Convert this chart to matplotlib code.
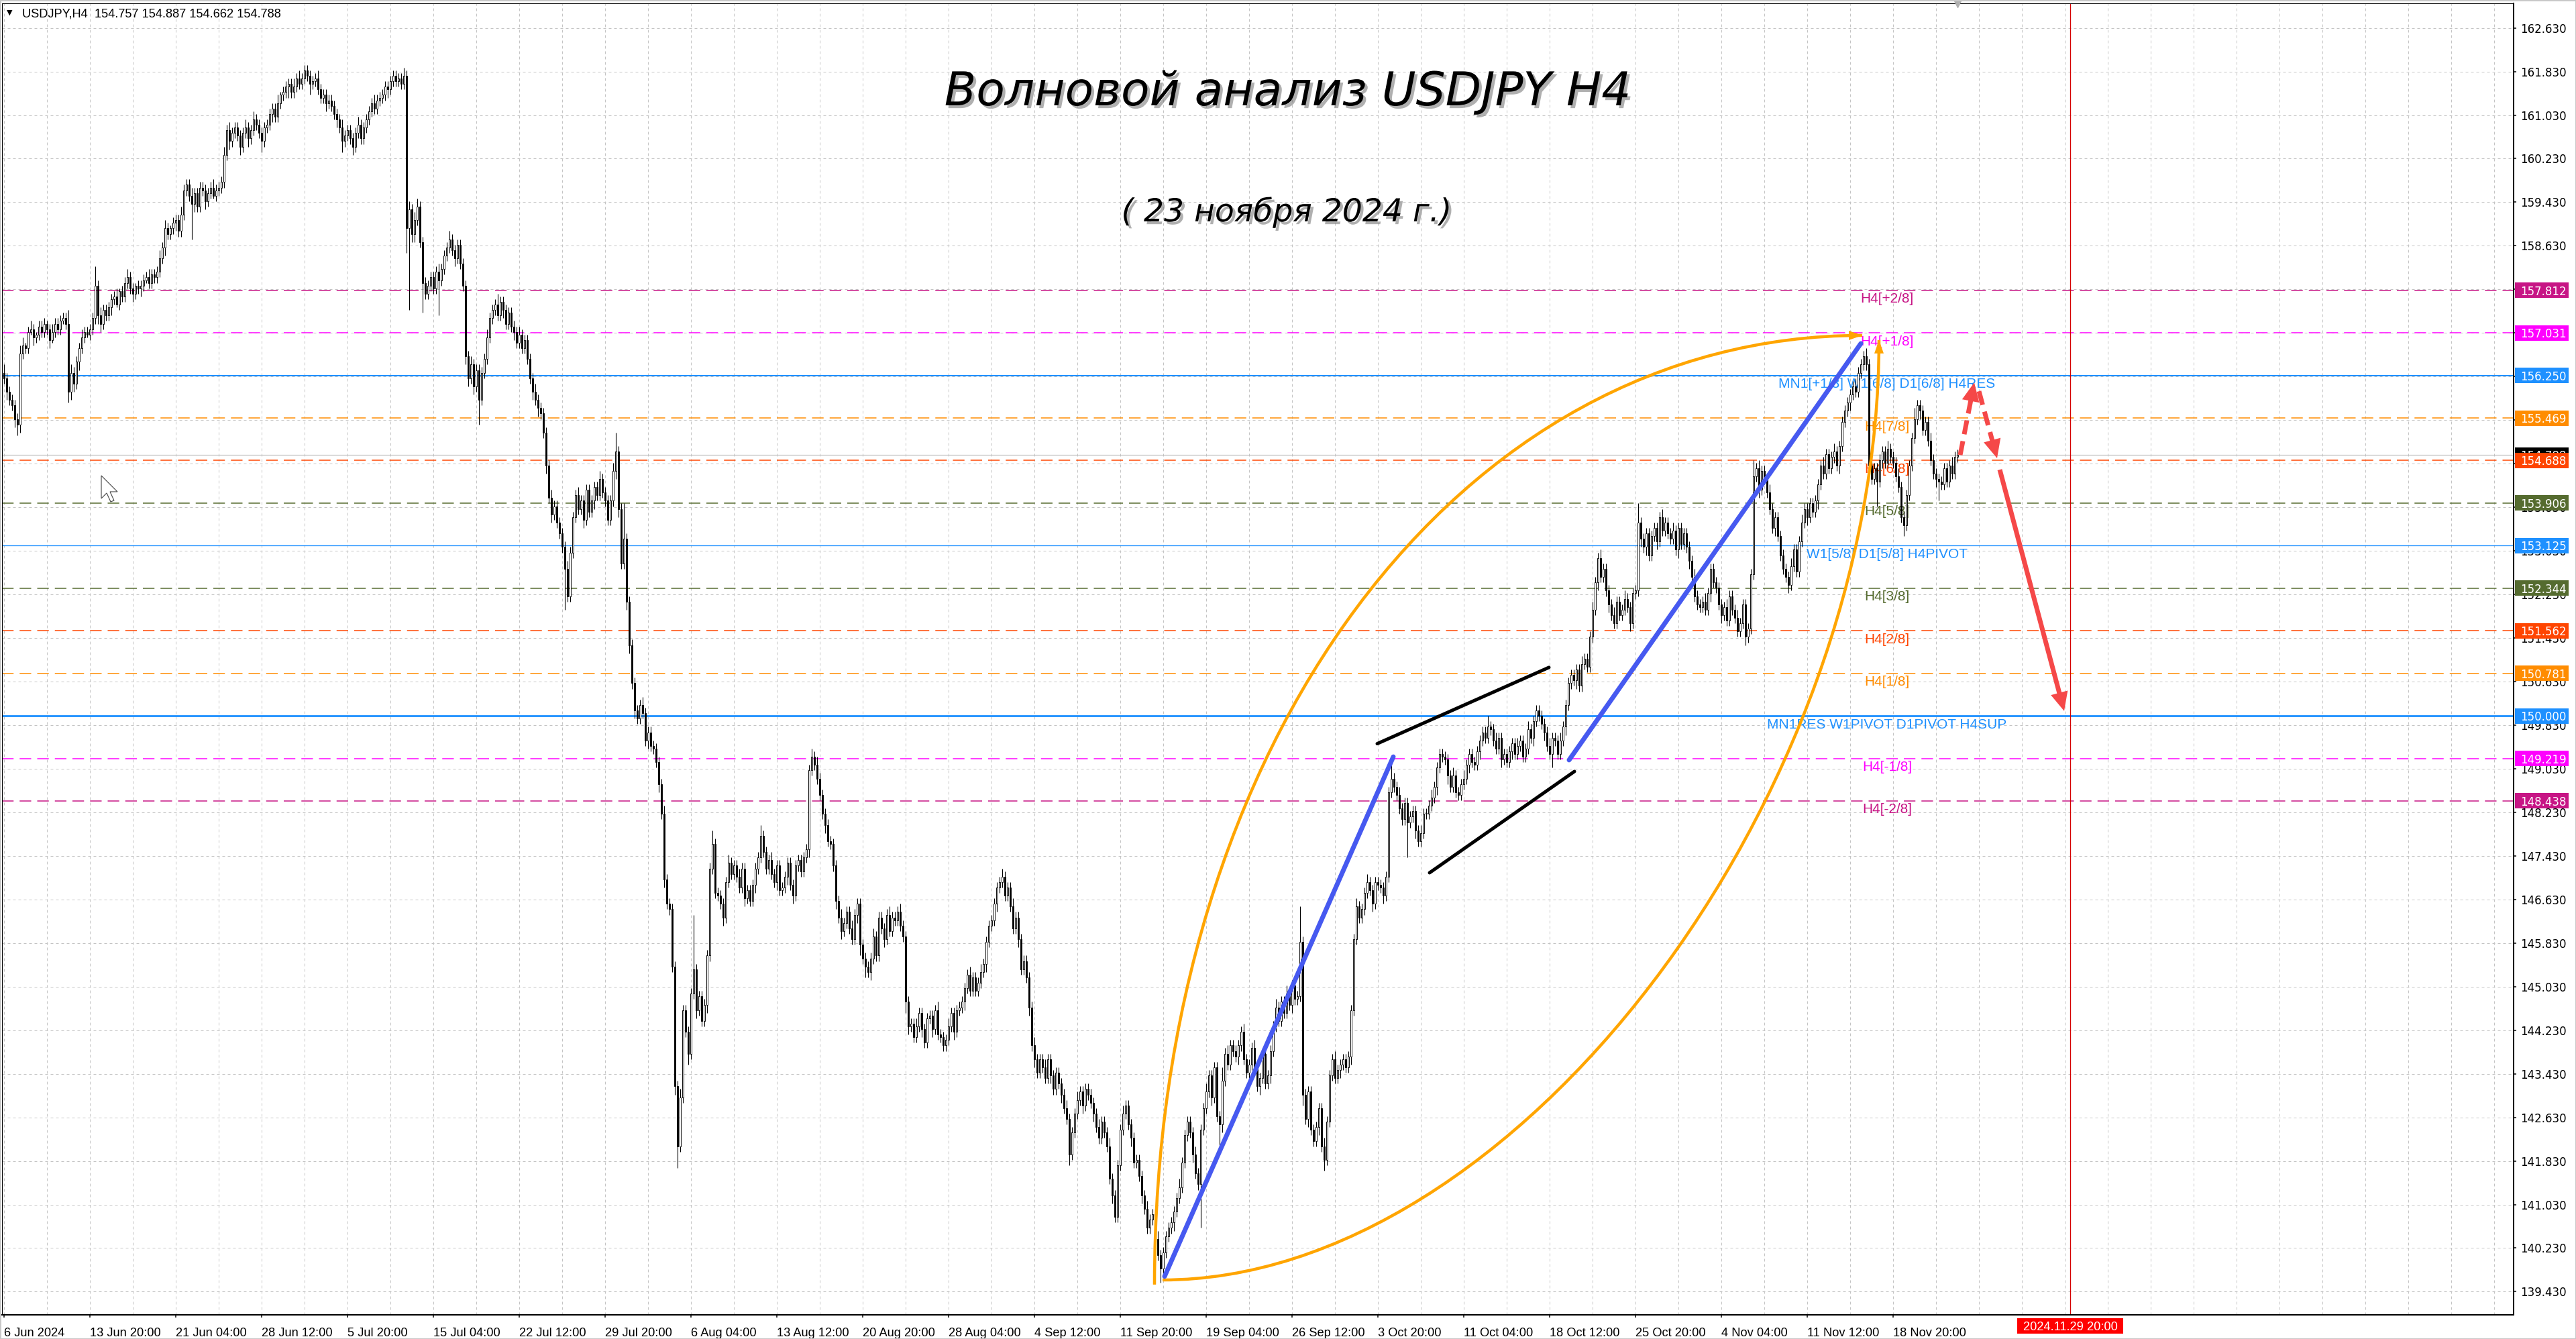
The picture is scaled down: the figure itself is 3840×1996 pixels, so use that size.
import numpy as np
import matplotlib
matplotlib.use("Agg")
import matplotlib.pyplot as plt
from matplotlib import font_manager as fm
from matplotlib.patches import Rectangle, Polygon, PathPatch
from matplotlib.path import Path
from matplotlib.transforms import blended_transform_factory as blend
import matplotlib.patheffects as pe

# ======================= DATA =======================
header_text = "USDJPY,H4  154.757 154.887 154.662 154.788"
title_text = "Волновой анализ USDJPY H4"
subtitle_text = "( 23 ноября 2024 г.)"

first_open = 156.30
closes = [
    156.20, 155.95, 155.80,                               # 6 Jun (12,16,20)
    155.70, 155.45, 155.35, 156.65, 156.80, 156.75,       # 7 Jun
    157.05, 157.10, 156.95, 157.00, 157.15, 157.05,       # 10 Jun
    157.20, 157.10, 156.90, 157.05, 157.20, 157.10,       # 11 Jun
    157.25, 157.30, 157.20, 155.95, 156.30, 156.10,       # 12 Jun
    156.50, 156.75, 156.95, 157.05, 157.00, 157.10,       # 13 Jun
    157.30, 157.90, 157.35, 157.20, 157.45, 157.35,       # 14 Jun
    157.50, 157.65, 157.70, 157.55, 157.80, 157.70,       # 17 Jun
    157.95, 158.05, 157.85, 157.75, 157.90, 157.85,       # 18 Jun
    157.90, 158.00, 158.05, 157.95, 158.10, 158.05,       # 19 Jun
    158.15, 158.40, 158.60, 158.95, 158.85, 158.95,       # 20 Jun
    159.05, 159.10, 158.90, 159.20, 159.65, 159.75,       # 21 Jun
    159.55, 159.40, 159.60, 159.35, 159.70, 159.65,       # 24 Jun
    159.45, 159.60, 159.70, 159.55, 159.65, 159.70,       # 25 Jun
    159.80, 160.30, 160.75, 160.55, 160.70, 160.80,       # 26 Jun
    160.65, 160.45, 160.70, 160.80, 160.60, 160.75,       # 27 Jun
    160.95, 160.85, 160.70, 160.55, 160.80, 160.85,       # 28 Jun
    161.05, 161.15, 161.00, 161.25, 161.40, 161.45,       # 1 Jul
    161.55, 161.60, 161.45, 161.55, 161.70, 161.60,       # 2 Jul
    161.70, 161.85, 161.75, 161.60, 161.65, 161.70,       # 3 Jul
    161.50, 161.35, 161.40, 161.25, 161.30, 161.20,       # 4 Jul
    161.05, 160.95, 160.80, 160.55, 160.65, 160.75,       # 5 Jul
    160.60, 160.45, 160.70, 160.85, 160.60, 160.80,       # 8 Jul
    160.95, 161.10, 161.25, 161.15, 161.30, 161.35,       # 9 Jul
    161.40, 161.55, 161.50, 161.65, 161.75, 161.65,       # 10 Jul
    161.70, 161.60, 161.75, 158.95, 159.30, 158.85,       # 11 Jul
    159.10, 159.35, 158.70, 157.95, 157.75, 157.90,       # 12 Jul
    158.05, 157.85, 158.15, 158.00, 158.20, 158.45,       # 15 Jul
    158.60, 158.75, 158.55, 158.40, 158.65, 158.30,       # 16 Jul
    157.90, 156.60, 156.20, 156.45, 156.05, 156.35,       # 17 Jul
    155.80, 156.30, 156.55, 156.95, 157.30, 157.45,       # 18 Jul
    157.55, 157.35, 157.60, 157.45, 157.20, 157.40,       # 19 Jul
    157.15, 157.05, 156.85, 157.00, 156.75, 156.90,       # 22 Jul
    156.55, 156.20, 155.95, 155.80, 155.65, 155.55,       # 23 Jul
    155.20, 154.60, 154.00, 153.70, 153.85, 153.55,       # 24 Jul
    153.35, 153.10, 152.70, 152.20, 153.00, 153.65,       # 25 Jul
    154.05, 153.80, 153.95, 153.60, 154.15, 153.75,       # 26 Jul
    153.95, 154.20, 154.05, 154.35, 154.10, 153.95,       # 29 Jul
    153.60, 153.95, 154.50, 154.85, 153.80, 152.80,       # 30 Jul
    153.25, 152.10, 151.30, 150.60, 150.10, 149.95,       # 31 Jul
    150.20, 150.05, 149.55, 149.70, 149.45, 149.40,       # 1 Aug
    149.15, 148.75, 148.20, 147.00, 146.55, 146.45,       # 2 Aug
    145.40, 143.20, 142.10, 143.00, 144.60, 144.20,       # 5 Aug
    143.80, 144.90, 145.35, 144.60, 144.85, 144.40,       # 6 Aug
    144.70, 145.60, 147.20, 147.65, 146.75, 146.70,       # 7 Aug
    146.55, 146.30, 146.95, 147.30, 147.10, 147.25,       # 8 Aug
    147.05, 146.85, 147.20, 146.65, 146.80, 146.60,       # 9 Aug
    146.90, 147.20, 147.40, 147.80, 147.50, 147.20,       # 12 Aug
    147.35, 147.10, 146.95, 147.25, 146.80, 146.85,       # 13 Aug
    147.05, 147.30, 146.90, 146.70, 147.25, 147.35,       # 14 Aug
    147.15, 147.40, 147.55, 149.00, 149.25, 149.10,       # 15 Aug
    148.85, 148.55, 148.20, 148.00, 147.70, 147.65,       # 16 Aug
    147.25, 146.60, 146.30, 146.05, 146.20, 146.40,       # 19 Aug
    146.10, 145.90, 146.35, 146.55, 145.80, 145.55,       # 20 Aug
    145.40, 145.30, 145.55, 145.95, 145.60, 146.30,       # 21 Aug
    146.10, 145.90, 146.35, 146.05, 146.30, 146.25,       # 22 Aug
    146.40, 146.15, 145.95, 144.75, 144.30, 144.35,       # 23 Aug
    144.10, 144.30, 144.55, 144.25, 144.00, 144.45,       # 26 Aug
    144.50, 144.25, 144.60, 144.15, 144.10, 143.95,       # 27 Aug
    144.05, 144.30, 144.55, 144.20, 144.60, 144.65,       # 28 Aug
    144.75, 145.00, 145.25, 144.95, 145.20, 144.95,       # 29 Aug
    145.10, 145.30, 145.45, 145.85, 146.15, 146.25,       # 30 Aug
    146.55, 146.85, 146.95, 147.05, 146.70, 146.85,       # 2 Sep
    146.50, 146.10, 146.30, 145.90, 145.35, 145.50,       # 3 Sep
    145.20, 144.65, 143.95, 143.70, 143.45, 143.70,       # 4 Sep
    143.55, 143.35, 143.70, 143.40, 143.15, 143.45,       # 5 Sep
    143.25, 143.05, 142.80, 142.60, 141.95, 142.35,       # 6 Sep
    142.70, 142.95, 143.10, 142.85, 143.15, 143.05,       # 9 Sep
    142.90, 142.70, 142.45, 142.25, 142.55, 142.35,       # 10 Sep
    142.10, 141.50, 141.20, 140.80, 141.75, 142.40,       # 11 Sep
    142.70, 142.85, 142.50, 142.25, 141.80, 141.85,       # 12 Sep
    141.55, 141.20, 140.95, 140.60, 140.75, 140.85,       # 13 Sep
    140.40, 140.10, 139.85, 140.15, 140.45, 140.60,       # 16 Sep
    140.70, 140.90, 141.15, 141.35, 141.80, 142.30,       # 17 Sep
    142.55, 142.35, 141.95, 141.60, 141.40, 142.40,       # 18 Sep
    142.80, 143.10, 143.40, 143.00, 143.55, 142.65,       # 19 Sep
    142.50, 143.30, 143.80, 143.60, 143.95, 143.85,       # 20 Sep
    143.75, 143.95, 144.20, 143.70, 143.45, 143.60,       # 23 Sep
    143.90, 143.55, 143.20, 143.35, 143.80, 143.25,       # 24 Sep
    143.40, 143.85, 144.30, 144.65, 144.40, 144.75,       # 25 Sep
    144.55, 144.90, 144.70, 145.05, 144.80, 144.85,       # 26 Sep
    145.85, 143.05, 142.60, 143.10, 142.40, 142.20,       # 27 Sep
    142.45, 142.80, 142.10, 141.85, 142.55, 143.40,       # 30 Sep
    143.70, 143.35, 143.50, 143.60, 143.70, 143.55,       # 1 Oct
    143.75, 144.60, 145.90, 146.50, 146.30, 146.45,       # 2 Oct
    146.75, 146.95, 146.80, 146.55, 146.95, 146.90,       # 3 Oct
    146.85, 146.70, 147.05, 148.60, 148.85, 148.70,       # 4 Oct
    148.55, 148.30, 148.10, 148.40, 148.05, 148.15,       # 7 Oct
    148.25, 147.90, 147.70, 147.85, 148.20, 148.20,       # 8 Oct
    148.35, 148.50, 148.70, 149.05, 149.30, 149.25,       # 9 Oct
    149.20, 148.90, 148.70, 148.90, 148.60, 148.55,       # 10 Oct
    148.75, 148.85, 149.10, 149.30, 149.15, 149.10,       # 11 Oct
    149.35, 149.55, 149.70, 149.60, 149.80, 149.75,       # 14 Oct
    149.55, 149.40, 149.60, 149.20, 149.30, 149.15,       # 15 Oct
    149.35, 149.50, 149.30, 149.45, 149.55, 149.25,       # 16 Oct
    149.40, 149.75, 149.60, 149.90, 150.10, 150.00,       # 17 Oct
    149.85, 149.70, 149.45, 149.30, 149.60, 149.55,       # 18 Oct
    149.30, 149.55, 149.80, 150.20, 150.60, 150.75,       # 21 Oct
    150.65, 150.85, 150.55, 150.95, 151.05, 150.90,       # 22 Oct
    151.45, 151.95, 152.45, 152.90, 152.55, 152.70,       # 23 Oct
    152.30, 152.05, 151.85, 151.70, 152.10, 151.85,       # 24 Oct
    151.95, 152.15, 152.00, 151.70, 152.25, 152.30,       # 25 Oct
    153.55, 153.25, 153.10, 153.35, 152.95, 153.30,       # 28 Oct
    153.45, 153.20, 153.65, 153.40, 153.55, 153.35,       # 29 Oct
    153.25, 153.40, 153.05, 153.45, 153.15, 153.35,       # 30 Oct
    153.10, 152.85, 152.55, 152.20, 152.05, 152.00,       # 31 Oct
    152.10, 151.95, 152.25, 152.70, 152.45, 152.35,       # 1 Nov
    152.05, 151.85, 152.00, 151.75, 152.20, 151.95,       # 4 Nov
    151.80, 151.55, 151.70, 152.05, 151.45, 151.60,       # 5 Nov
    152.60, 154.40, 154.55, 154.15, 154.50, 154.35,       # 6 Nov
    154.10, 153.80, 153.45, 153.65, 153.30, 152.95,       # 7 Nov
    152.70, 152.55, 152.40, 152.75, 153.05, 152.65,       # 8 Nov
    153.20, 153.55, 153.80, 153.65, 153.90, 153.75,       # 11 Nov
    153.95, 154.25, 154.60, 154.45, 154.80, 154.55,       # 12 Nov
    154.75, 154.85, 154.60, 154.95, 155.40, 155.60,       # 13 Nov
    155.75, 155.90, 156.05, 155.95, 156.30, 156.45,       # 14 Nov
    156.60, 156.45, 154.60, 154.35, 154.55, 154.30,       # 15 Nov
    154.70, 154.85, 154.65, 154.90, 154.75, 154.65,       # 18 Nov
    154.40, 154.20, 153.65, 153.50, 154.05, 154.60,       # 19 Nov
    155.10, 155.45, 155.70, 155.60, 155.25, 155.40,       # 20 Nov
    155.05, 154.70, 154.45, 154.35, 154.30, 154.25,       # 21 Nov
    154.55, 154.30, 154.60, 154.45, 154.757, 154.788,     # 22 Nov
]

# wick lengths per bar, base-36 digits, unit = 0.05 JPY (one string per day)
wick_unit = 0.05
wick_up_days = [
    "322", "222331", "232122", "212322", "222532", "223222", "272322", "222312",
    "232212", "222322", "232321", "222322", "232222", "222322", "232322", "222322",
    "322222", "222312", "222323", "222222", "322222", "222322", "222322", "222322",
    "222222", "223232", "332222", "222322", "232222", "222322", "222322", "242222",
    "222322", "222322", "222322", "222322", "232222", "222322", "223722", "d22222",
    "232222", "222322", "222322", "22k222", "222522", "222322", "232222", "222422",
    "232222", "222222", "222232", "322222", "222322", "232222", "222322", "222322",
    "232222", "232222", "222322", "232222", "222322", "232222", "222322", "232222",
    "222322", "232222", "222322", "232222", "222322", "232222", "322222", "222322",
    "232222", "222322", "222322", "232222", "252322", "222322", "232222", "222322",
    "232222", "d22222", "222322", "232222", "222322", "232222", "222252", "232222",
    "222322", "232222", "222322", "232222", "222242", "232222", "222322", "232222",
    "222322", "232222", "222322", "232232", "222322", "232222", "722222", "222322",
    "232222", "222322", "232222", "222322", "232222", "262322", "232222", "222322",
    "232222", "222322", "232222", "222322", "232222", "222322", "232222", "242222",
    "232222", "222322",
]
wick_dn_days = [
    "232", "234322", "213222", "223122", "212433", "232212", "223322", "232122",
    "222322", "321222", "222322", "232222", "2d3222", "322122", "222322", "232232",
    "222422", "232222", "242222", "222422", "222322", "232422", "232222", "222222",
    "223222", "2229u3", "322b22", "222d22", "222322", "233232", "922222", "222322",
    "232222", "223232", "232322", "22f222", "222322", "232222", "222332", "233232",
    "222322", "232322", "238222", "422322", "232222", "232222", "222322", "232222",
    "222322", "232322", "222322", "222322", "232322", "222342", "423222", "232222",
    "222432", "222322", "232222", "222322", "232222", "222322", "232222", "222322",
    "232322", "222322", "232242", "222322", "232222", "223222", "222322", "232222",
    "225222", "232222", "22322g", "222322", "932222", "232222", "222322", "232222",
    "222322", "242322", "232422", "222322", "232222", "222322", "232222", "2222d2",
    "232222", "222322", "232222", "222322", "232222", "222322", "232222", "222322",
    "232252", "222322", "232222", "222322", "232222", "222322", "232322", "232222",
    "222322", "232222", "222322", "232222", "222232", "222322", "222322", "223222",
    "222322", "232222", "222322", "232222", "223229", "232222", "222422", "222322",
    "222372", "222222",
]

time_tick_bars = [0, 32, 64, 96, 128, 160, 192, 224, 256, 288, 320, 352,
                  384, 416, 448, 480, 512, 544, 576, 608, 640, 672, 704]
time_tick_labels = ["6 Jun 2024", "13 Jun 20:00", "21 Jun 04:00", "28 Jun 12:00",
                    "5 Jul 20:00", "15 Jul 04:00", "22 Jul 12:00", "29 Jul 20:00",
                    "6 Aug 04:00", "13 Aug 12:00", "20 Aug 20:00", "28 Aug 04:00",
                    "4 Sep 12:00", "11 Sep 20:00", "19 Sep 04:00", "26 Sep 12:00",
                    "3 Oct 20:00", "11 Oct 04:00", "18 Oct 12:00", "25 Oct 20:00",
                    "4 Nov 04:00", "11 Nov 12:00", "18 Nov 20:00"]
future_bar = 770
future_label = "2024.11.29 20:00"

price_ticks = [162.63, 161.83, 161.03, 160.23, 159.43, 158.63, 157.83, 157.03,
               156.23, 155.43, 154.63, 153.83, 153.03, 152.23, 151.43, 150.63,
               149.83, 149.03, 148.23, 147.43, 146.63, 145.83, 145.03, 144.23,
               143.43, 142.63, 141.83, 141.03, 140.23, 139.43]

current_price = 154.788
level_prices = [157.812, 157.031, 156.250, 155.469, 154.688, 153.906, 153.125,
                152.344, 151.562, 150.781, 150.000, 149.219, 148.438]
level_names = ["H4[+2/8]", "H4[+1/8]", "MN1[+1/8] W1[6/8] D1[6/8] H4RES", "H4[7/8]",
               "H4[6/8]", "H4[5/8]", "W1[5/8] D1[5/8] H4PIVOT", "H4[3/8]", "H4[2/8]",
               "H4[1/8]", "MN1RES W1PIVOT D1PIVOT H4SUP", "H4[-1/8]", "H4[-2/8]"]

# drawn objects (bar index, price)
arc_upper = [(428.75, 139.56), (692.5, 156.985)]
arc_lower = [(431.75, 139.645), (698.75, 156.90)]
blue_lines = [[(432.5, 139.71), (517.75, 149.25)],
              [(583.25, 149.19), (692.0, 156.837)]]
black_lines = [[(511.75, 149.49), (575.75, 150.89)],
               [(531.25, 147.12), (585.25, 148.98)]]
red_dashed_arrows = [[(729.0, 154.79), (734.25, 156.12)],
                     [(736.0, 155.96), (742.75, 154.73)]]
red_solid_arrow = [(743.75, 154.52), (767.75, 150.09)]
shift_marker_bar = 728

# ======================= STYLE / LAYOUT =======================
level_colors = ['#C71585', '#FF00FF', '#1E90FF', '#FF8C00', '#FF4500', '#556B2F', '#1E90FF',
                '#556B2F', '#FF4500', '#FF8C00', '#1E90FF', '#FF00FF', '#C71585']
level_solid = [False, False, True, False, False, False, True, False, False, False, True, False, False]
level_lw_px = [1.5, 1.5, 2.0, 1.5, 1.5, 1.5, 1.3, 1.5, 1.5, 1.5, 2.8, 1.5, 1.5]

W, H, DPI = 3840, 1996, 100
PT_PER_PX = 72.0 / DPI
PL, PR, PT, PB = 3, 3747, 5, 1960          # plot area in pixels
BAR0_PX, BAR_PX = 6.0, 4.0                 # x pixel of bar 0 and bar spacing
XMIN = (PL - BAR0_PX) / BAR_PX
XMAX = (PR - BAR0_PX) / BAR_PX
YMIN, YMAX = 139.0045, 163.0807
PX_PER_PRICE = (PB - PT) / (YMAX - YMIN)
LABEL_BAR = 701.75
CURSOR_TIP_PX = (151, 709)                 # mouse pointer left in the screenshot

BLUE = '#4659F0'
ORANGE = '#FFA500'
RED = '#F54848'

names = {f.name for f in fm.fontManager.ttflist}
if "Liberation Sans Narrow" in names:
    NARROW, NSCALE = "Liberation Sans Narrow", 1.0
else:
    NARROW, NSCALE = "Liberation Sans", 0.82
ARIAL = "Liberation Sans" if "Liberation Sans" in names else "DejaVu Sans"
plt.rcParams['font.family'] = ['DejaVu Sans']

fig = plt.figure(figsize=(W / DPI, H / DPI), dpi=DPI)
fig.patch.set_facecolor('white')
ax = fig.add_axes([PL / W, 1 - PB / H, (PR - PL) / W, (PB - PT) / H])
ax.set_xlim(XMIN, XMAX)
ax.set_ylim(YMIN, YMAX)
ax.set_facecolor('white')

# spines / ticks
for s in ['left', 'top']:
    ax.spines[s].set_linewidth(1.0 * PT_PER_PX)
for s in ['right', 'bottom']:
    ax.spines[s].set_linewidth(2.0 * PT_PER_PX)
ax.yaxis.set_ticks_position('right')
ax.set_yticks(price_ticks)
ax.set_xticks(time_tick_bars)
ax.tick_params(axis='both', direction='out', length=4 * PT_PER_PX, width=1.5 * PT_PER_PX,
               labelleft=False, labelright=False, labelbottom=False)

# grid
grid_kw = dict(color='#C4C4C4', lw=1.0 * PT_PER_PX, ls=(0, (4, 4)), zorder=0.5)
for y in price_ticks:
    ax.axhline(y, **grid_kw)
for b in range(0, int(XMAX) + 1, 16):
    ax.axvline(b, **grid_kw)

# level lines + labels
for p, name, col, solid, lwp in zip(level_prices, level_names, level_colors, level_solid, level_lw_px):
    ls = '-' if solid else (0, (11.5, 6))
    ax.axhline(p, color=col, lw=lwp * PT_PER_PX, ls=ls, zorder=1)
    ax.annotate(name, xy=(LABEL_BAR, p), xytext=(0, -2.5), textcoords='offset points',
                ha='center', va='top', color=col, fontsize=15, family=ARIAL, zorder=1.5)
ax.axhline(current_price, color='#BEBEBE', lw=1.2 * PT_PER_PX, zorder=1)

# future red vertical line
ax.axvline(future_bar, color='#D40000', lw=1.3 * PT_PER_PX, zorder=1.2)

# candles
c = np.array(closes, float)
n = len(c)
o = np.concatenate([[first_open], c[:-1]])
wu_s = "".join(wick_up_days).ljust(n, "2")
wd_s = "".join(wick_dn_days).ljust(n, "2")
wu = np.array([int(ch, 36) for ch in wu_s[:n]]) * wick_unit
wd = np.array([int(ch, 36) for ch in wd_s[:n]]) * wick_unit
hi = np.maximum(o, c) + wu
lo = np.minimum(o, c) - wd
idx = np.arange(n)
ax.vlines(idx, lo, hi, color='black', lw=1.1 * PT_PER_PX, zorder=2)
bull = c >= o
bot = np.minimum(o, c)
hgt = np.maximum(np.abs(c - o), 0.012)
ax.bar(idx[bull], hgt[bull], bottom=bot[bull], width=0.6, color='white',
       edgecolor='black', lw=0.9 * PT_PER_PX, zorder=3)
ax.bar(idx[~bull], hgt[~bull], bottom=bot[~bull], width=0.6, color='black',
       edgecolor='black', lw=0.9 * PT_PER_PX, zorder=3)


def arrow_head(start, tip, L, Wh, color, z):
    s = ax.transData.transform(start)
    t = ax.transData.transform(tip)
    d = (t - s) / np.hypot(*(t - s))
    nrm = np.array([-d[1], d[0]])
    base = t - d * L
    pts = np.array([t, base + nrm * Wh, base - nrm * Wh])
    ax.add_patch(Polygon(ax.transData.inverted().transform(pts), closed=True,
                         fc=color, ec='none', zorder=z))
    return tuple(ax.transData.inverted().transform(t - d * L * 0.7))


# orange arcs (quarter-ellipse-like Bezier curves with small arrow heads)
(ax_, ay_), (bx_, by_) = arc_upper
k = 0.57
P = [(ax_, ay_), (ax_, ay_ + k * (by_ - ay_)), (bx_ - k * (bx_ - ax_), by_), (bx_, by_)]
ax.add_patch(PathPatch(Path(P, [Path.MOVETO, Path.CURVE4, Path.CURVE4, Path.CURVE4]),
                       fill=False, ec=ORANGE, lw=4.5 * PT_PER_PX, zorder=6))
arrow_head(P[2], P[3], 20, 7, ORANGE, 6.1)
(ax_, ay_), (bx_, by_) = arc_lower
k = 0.49
P = [(ax_, ay_), (ax_ + k * (bx_ - ax_), ay_), (bx_, by_ - k * (by_ - ay_)), (bx_, by_)]
ax.add_patch(PathPatch(Path(P, [Path.MOVETO, Path.CURVE4, Path.CURVE4, Path.CURVE4]),
                       fill=False, ec=ORANGE, lw=4.5 * PT_PER_PX, zorder=6))
arrow_head(P[2], P[3], 20, 7, ORANGE, 6.1)

# blue and black trend lines
for (p0, p1) in blue_lines:
    ax.plot([p0[0], p1[0]], [p0[1], p1[1]], color=BLUE, lw=7 * PT_PER_PX,
            solid_capstyle='round', zorder=6)
for (p0, p1) in black_lines:
    ax.plot([p0[0], p1[0]], [p0[1], p1[1]], color='black', lw=5 * PT_PER_PX,
            solid_capstyle='round', zorder=6)

# red forecast arrows
for (p0, p1) in red_dashed_arrows:
    end = arrow_head(p0, p1, 28, 13, RED, 7.1)
    ax.plot([p0[0], end[0]], [p0[1], end[1]], color=RED, lw=7 * PT_PER_PX,
            ls=(0, (3.0, 1.5)), solid_capstyle='butt', zorder=7)
p0, p1 = red_solid_arrow
end = arrow_head(p0, p1, 28, 13, RED, 7.1)
ax.plot([p0[0], end[0]], [p0[1], end[1]], color=RED, lw=7 * PT_PER_PX,
        solid_capstyle='butt', zorder=7)

# chart-shift marker at top
ax.plot([shift_marker_bar], [YMAX], marker='v', ms=9, color='#B0B0B0', clip_on=False, zorder=8)

# right price scale
fy = blend(fig.transFigure, ax.transData)
for p in price_ticks:
    ax.text(3757 / W, p, f"{p:.3f}", transform=fy, ha='left', va='center_baseline',
            fontsize=12, family='DejaVu Sans', color='black', clip_on=False, zorder=9)
box_h = 23 / PX_PER_PRICE
box_list = [(current_price, 'black')] + list(zip(level_prices, level_colors))
for i, (p, col) in enumerate(box_list):
    ax.add_patch(Rectangle((3749 / W, p - box_h / 2), 80 / W, box_h, transform=fy,
                           fc=col, ec='none', clip_on=False, zorder=10 + i * 0.01))
    ax.text(3757 / W, p, f"{p:.3f}", transform=fy, ha='left', va='center_baseline',
            fontsize=12, family='DejaVu Sans', color='white', clip_on=False,
            zorder=10.005 + i * 0.01)

# bottom time scale
xf = blend(ax.transData, fig.transFigure)
for b, lab in zip(time_tick_bars, time_tick_labels):
    ax.text(b, 1 - 1992 / H, lab, transform=xf, ha='left', va='baseline',
            fontsize=16 * NSCALE, family=NARROW, color='black', clip_on=False, zorder=9)
ax.add_patch(Rectangle((future_bar - 79 / BAR_PX, 1 - 1988 / H), 158 / BAR_PX, 23 / H,
                       transform=xf, fc='#FF0000', ec='none', clip_on=False, zorder=10))
ax.text(future_bar, 1 - 1976.5 / H, future_label, transform=xf, ha='center',
        va='center_baseline', fontsize=16 * NSCALE, family=NARROW, color='white',
        clip_on=False, zorder=11)

# mouse pointer left on the screenshot
cur_shape = np.array([(0, 0), (0, 17), (4, 13), (7, 19.5), (9.5, 18.5), (6.5, 12), (12, 12)])
cx, cy = CURSOR_TIP_PX
cur_px = np.column_stack([cx + cur_shape[:, 0] * 2.0, cy + cur_shape[:, 1] * 2.0])
cur_fig = np.column_stack([cur_px[:, 0] / W, 1 - cur_px[:, 1] / H])
fig.add_artist(Polygon(cur_fig, closed=True, transform=fig.transFigure, fc='white',
                       ec='#505050', lw=1.2 * PT_PER_PX, zorder=12))

# header
fig.text(14 / W, 1 - 19 / H, "\u25BC", ha='center', va='center', fontsize=8,
         family='DejaVu Sans', color='black')
fig.text(33 / W, 1 - 26 / H, header_text, ha='left', va='baseline',
         fontsize=16 * NSCALE, family=NARROW, color='black')

# title
shadow = [pe.withSimplePatchShadow(offset=(3, -3), shadow_rgbFace='#707070', alpha=0.55)]
fig.text(0.5, 1 - 157 / H, title_text, ha='center', va='baseline', fontsize=50,
         style='oblique', family='DejaVu Sans', color='black', path_effects=shadow)
fig.text(1918 / W, 1 - 330 / H, subtitle_text, ha='center', va='baseline', fontsize=34,
         style='oblique', family='DejaVu Sans', color='black', path_effects=shadow)

# window frame
fig.add_artist(Rectangle((0, 0), 1, 1, transform=fig.transFigure, fill=False,
                         ec='#C8C8C8', lw=3 * PT_PER_PX))

fig.savefig("out.png", dpi=DPI, facecolor='white')
